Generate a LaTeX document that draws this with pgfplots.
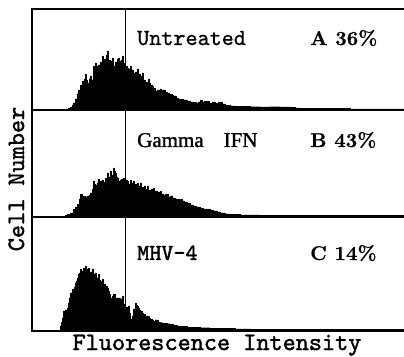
\documentclass[border=0pt]{standalone}
\usepackage{fontspec}
\usepackage{pgfplots}
\pgfplotsset{compat=1.18}
\newfontfamily\libserif{Liberation Serif}[FakeBold=1.2]
\newfontfamily\ttb{lmmono10-regular.otf}[FakeBold=1.6]
\newfontfamily\ttc{lmmono10-regular.otf}[FakeBold=1.0]
\newfontfamily\rmb{lmroman10-bold.otf}[FakeBold=0.6]
\begin{document}
\begin{tikzpicture}[x=1pt,y=1pt]
\useasboundingbox (0,0) rectangle (404,356);
\pgfplotsset{panel/.style={scale only axis, width=374pt, xmin=32, xmax=406, ymin=0,
  anchor=south west, ticks=none, axis line style={line width=1.2pt}, clip=false}}
% Panel 1
\begin{axis}[panel, at={(32pt,246pt)}, height=101pt, ymax=101]
\addplot[const plot, fill=black, draw=black, line width=0.3pt] coordinates {
(32,0)(62,0)(64,0.8)(66,1.2)(68,1.8)(70,2.4)(72,5)(73,7)(75,11)(77,16)(78,20)(80,25)(82,29)(84,31)(85,35.7)(86,30)(87,27)(89,31)(90,34)(91,30)(93,44)(94,41)(95,47)(96,44)(97,42)(98,45)(100,48)(102,54)(103,49)(104,51)(106,55)(107,59)(108,50)(110,47)(111,49)(112,52)(113,44)(115,48)(117,51)(118,52)(119,48)(120,49)(121,50)(122,54)(123,47)(124,45)(125,44)(127,42)(128,39)(129,41)(130,44)(131,40)(133,37)(135,38)(137,41)(138,36)(140,32)(141,34)(142,37)(143,30)(145,26)(146,28)(148,31)(149,27)(150,25)(152,24)(153,22)(155,19)(157,20)(160,21)(161,20)(163,20)(165,18)(167,17)(169,16)(170,16)(172,15)(173,14)(176,12)(178,11)(180,10.7)(183,10)(187,9)(190,8.2)(193,7.4)(196,7)(198,8)(200,10)(202,8)(204,8.5)(207,8.5)(209,7)(212,7.5)(215,6.5)(218,7.5)(220,8)(222,6)(225,4.5)(230,4)(235,3.8)(240,3.5)(250,3.3)(260,3.2)(270,3.3)(280,3)(290,2.8)(295,2)(300,1.5)(350,1.2)(406,1)
} \closedcycle;
\addplot[black, line width=0.9pt] coordinates {(125,0)(125,101)};
\end{axis}
% Panel 2
\begin{axis}[panel, at={(32pt,139pt)}, height=107pt, ymax=107]
\addplot[const plot, fill=black, draw=black, line width=0.3pt] coordinates {
(32,0)(63,0)(65,1.4)(67,2.5)(70,4)(73,7.4)(75,10)(77,12.4)(79,18)(80,22.4)(82,21)(83,20.7)(85,20)(87,21)(89,22)(90,24)(92,28)(93,35.7)(94,33)(95,32)(97,34)(98,37.4)(99,34)(100,36)(102,37)(103,35)(105,39)(106,37)(107,44)(108,39)(109,40)(110,45.7)(111,42)(112,41)(113,49)(114,46)(115,44)(116,40)(117,39)(118,36)(120,37)(121,38)(123,39)(124,36)(125,37)(127,35.7)(128,33)(130,37)(131,34)(133,35.7)(134,32)(135,33)(137,34)(138,31)(140,34)(141,30)(143,29)(144,31)(145,28)(147,31)(148,27)(150,27)(151,28)(153,29)(154,25)(155,26)(157,24)(158,25)(160,26)(161,23)(163,22)(165,22.4)(167,22.4)(168,20)(170,21)(172,19)(173,19)(175,18)(177,17.5)(180,17.4)(182,16)(184,15)(187,14)(190,12)(193,10.7)(196,10)(200,9)(203,8)(207,7.4)(210,6.5)(213,6)(217,5)(220,4)(225,3)(230,2.5)(240,2)(260,1.8)(300,1.5)(406,1)
} \closedcycle;
\addplot[black, line width=0.9pt] coordinates {(125,0)(125,107)};
\end{axis}
% Panel 3
\begin{axis}[panel, at={(32pt,25pt)}, height=114pt, ymax=114]
\addplot[const plot, fill=black, draw=black, line width=0.3pt] coordinates {
(32,0)(58,0)(60,5)(61,9)(62,13)(63,20)(65,21)(67,23)(68,28)(69,33)(70,38)(72,41.7)(73,40)(74,44)(75,48)(76,50)(77,53)(78,56.7)(79,58)(80,61.7)(81,60)(82,58)(83,63)(84,62)(85,65)(86,62)(87,60)(88,63)(89,59)(90,57)(91,59)(92,62)(93,55)(94,57)(95,58)(96,53)(97,50)(98,56.7)(99,51)(100,48)(101,50)(102,52)(103,46.7)(105,45)(107,43)(108,40)(109,37)(110,33)(112,35)(113,36.7)(115,33)(117,31.7)(118,33)(120,30)(121,32)(122,35)(123,26.7)(125,24)(127,21.7)(128,25)(129,18)(130,10)(131,12)(132,15)(133,22)(135,28)(136,26)(137,25)(138,23)(139,21)(140,20)(142,18)(143,16.7)(145,15)(147,15)(149,13)(150,11.7)(152,10.5)(153,10)(155,11)(157,11)(158,9)(160,8.3)(163,8)(167,7.3)(170,6.5)(173,6)(177,5)(182,4.5)(187,4)(193,3.5)(200,3.3)(210,3)(220,2.7)(235,2.2)(250,2)(300,1.5)(406,1)
} \closedcycle;
\addplot[black, line width=0.9pt] coordinates {(125,0)(125,114)};
\end{axis}
% Texts
\node[anchor=base west, inner sep=0pt] at (137,311) {\fontsize{23}{28}\selectfont\ttc Untreated};
\node[anchor=base west, inner sep=0pt] at (310,311) {\fontsize{20}{24}\selectfont\rmb A 36\%};
\node[anchor=base west, inner sep=0pt] at (137,209) {\fontsize{21}{25}\selectfont\libserif Gamma\hspace{20pt}IFN};
\node[anchor=base west, inner sep=0pt] at (310,209) {\fontsize{20}{24}\selectfont\rmb B 43\%};
\node[anchor=base west, inner sep=0pt] at (137,96) {\fontsize{23}{28}\selectfont\ttb MHV-4};
\node[anchor=base west, inner sep=0pt] at (310,96) {\fontsize{20}{24}\selectfont\rmb C 14\%};
\node[anchor=base, inner sep=0pt] at (217,6) {\fontsize{25}{30}\selectfont\ttb Fluorescence Intensity};
\node[anchor=base, inner sep=0pt, rotate=90] at (24,177) {\fontsize{25}{30}\selectfont\ttb Cell Number};
\end{tikzpicture}
\end{document}
